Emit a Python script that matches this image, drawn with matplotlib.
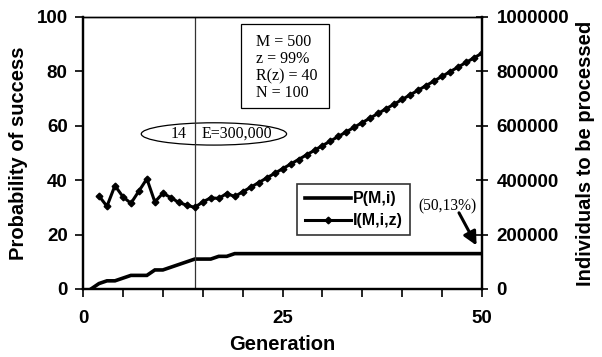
import matplotlib.pyplot as plt
from matplotlib.patches import Ellipse, Rectangle

# generation index and series
gen_p = list(range(1, 51))
prob = [0, 2, 3, 3, 4, 5, 5, 5, 7, 7, 8, 9, 10, 11, 11, 11, 12, 12, 13, 13,
        13, 13, 13, 13, 13, 13, 13, 13, 13, 13, 13, 13, 13, 13, 13, 13, 13, 13, 13, 13,
        13, 13, 13, 13, 13, 13, 13, 13, 13, 13]

gen_i = list(range(2, 51))
individuals = [342000, 304000, 380000, 339000, 315000, 360000, 405000, 320000, 352000, 336000,
               318000, 308000, 300000, 320000, 335000, 333000, 351000, 340000, 357000, 374000,
               391000, 408000, 425000, 442000, 459000, 476000, 493000, 510000, 527000, 544000,
               561000, 578000, 595000, 612000, 629000, 646000, 663000, 680000, 697000, 714000,
               731000, 748000, 765000, 782000, 799000, 816000, 833000, 850000, 867000]

params_text = "M = 500\nz = 99%\nR(z) = 40\nN = 100"

plt.rcParams['font.family'] = ['Liberation Sans', 'DejaVu Sans']
serif = ['Liberation Serif', 'DejaVu Serif']

fig = plt.figure(figsize=(6.02, 3.57), dpi=100)
ax = fig.add_axes([0.1379, 0.1905, 0.663, 0.762])
ax2 = ax.twinx()

lp, = ax.plot(gen_p, prob, color='black', lw=2.6, solid_joinstyle='miter', label='P(M,i)')
li, = ax2.plot(gen_i, individuals, color='black', lw=2.2, marker='D', markersize=3.4,
               label='I(M,i,z)')

ax.set_xlim(0, 50)
ax.set_ylim(0, 100)
ax2.set_ylim(0, 1000000)

ax.set_xticks(range(0, 51, 5))
ax.set_xticklabels(['0' if t == 0 else '25' if t == 25 else '50' if t == 50 else '' for t in range(0, 51, 5)])
ax.set_yticks(range(0, 101, 20))
ax2.set_yticks(range(0, 1000001, 200000))
ax2.set_yticklabels([str(v) for v in range(0, 1000001, 200000)])

for lab in ax.get_xticklabels() + ax.get_yticklabels() + ax2.get_yticklabels():
    lab.set_fontweight('bold')
    lab.set_fontsize(13.5)

ax.tick_params(axis='x', direction='out', length=6, width=1.2, pad=9)
ax.tick_params(axis='y', direction='out', length=6, width=1.2, pad=5)
ax2.tick_params(axis='y', direction='inout', length=9, width=1.2, pad=6)
for a in (ax, ax2):
    for s in a.spines.values():
        s.set_linewidth(1.0)
    a.spines['left'].set_linewidth(1.6)
    a.spines['bottom'].set_linewidth(1.6)
    a.spines['right'].set_linewidth(1.6)

ax.set_xlabel('Generation', fontsize=14.5, fontweight='bold', labelpad=6)
ax.set_ylabel('Probability of success', fontsize=14.5, fontweight='bold', labelpad=6)
ax2.set_ylabel('Individuals to be processed', fontsize=14.5, fontweight='bold', labelpad=5)

# vertical marker at generation 14
ax.axvline(14, color='#333333', lw=0.9)

ax.add_patch(Ellipse((16.4, 57.0), 18.2, 8.2, fill=False, edgecolor='black', lw=0.9))
ax.text(12.0, 57.0, '14', family=serif, fontsize=11.5, ha='center', va='center')
ax.text(19.3, 57.0, 'E=300,000', family=serif, fontsize=11.5, ha='center', va='center')

# parameter box
ax.add_patch(Rectangle((19.8, 66.5), 11.0, 30.9, facecolor='white', edgecolor='black',
                       lw=0.9, zorder=3))
ax.text(21.7, 93.8, params_text, family=serif, fontsize=11.5, ha='left', va='top',
        linespacing=1.1, zorder=4)

ax.text(45.7, 30.3, '(50,13%)', family=serif, fontsize=11.2, ha='center', va='center')
ax.annotate('', xy=(49.3, 16.0), xytext=(47.1, 28.0),
            arrowprops=dict(arrowstyle='-|>,head_width=0.4,head_length=0.8', color='black',
                            lw=2.2, shrinkA=0, shrinkB=0))

leg = ax2.legend(handles=[lp, li], loc='upper left', bbox_to_anchor=(0.537, 0.385),
                 frameon=True, fancybox=False, edgecolor='black',
                 prop={'weight': 'bold', 'size': 11.5}, handlelength=2.9, borderpad=0.45,
                 labelspacing=0.42, handletextpad=0.1, borderaxespad=0)
leg.get_frame().set_linewidth(1.2)

fig.savefig('out.png', dpi=100)
